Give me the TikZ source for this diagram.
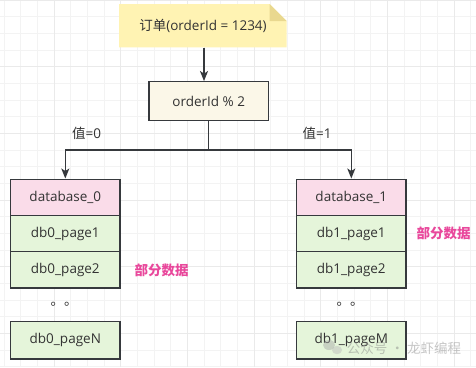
\documentclass[tikz,border=0pt]{standalone}
\usepackage{fontspec}
\setmainfont{Open Sans}
\newfontfamily\cjk{Noto Sans CJK SC}
\usetikzlibrary{arrows.meta}
\definecolor{bd}{HTML}{36393D}
\definecolor{tx}{HTML}{333333}
\definecolor{notefill}{HTML}{FFF3B3}
\definecolor{notefold}{HTML}{E9D88F}
\definecolor{opfill}{HTML}{FBF7E8}
\definecolor{pinkfill}{HTML}{FADCE9}
\definecolor{greenfill}{HTML}{E5F5DA}
\definecolor{hl}{HTML}{E9489C}
\definecolor{gminorc}{HTML}{F3F3F3}
\definecolor{gmajorc}{HTML}{EAEAEA}
\tikzset{
  box/.style={draw=bd, line width=1.3pt, text=tx, inner sep=0pt,
              minimum width=109.3pt, minimum height=36.3pt},
  dbbox/.style={box, fill=pinkfill},
  pgbox/.style={box, fill=greenfill},
  opbox/.style={box, fill=opfill, minimum width=119.3pt, minimum height=39pt},
  arr/.style={draw=bd, line width=1.3pt, -{Stealth[length=10pt,width=8pt,inset=2.5pt]}},
  conn/.style={draw=bd, line width=1.3pt},
  lbl/.style={text=tx, inner sep=0pt},
  hltext/.style={text=hl, inner sep=0pt, font=\cjk\bfseries\fontsize{13.5}{16}\selectfont},
  gminor/.style={draw=gminorc, line width=0.8pt},
  gmajor/.style={draw=gmajorc, line width=1pt},
}
\begin{document}
\begin{tikzpicture}[x=1pt,y=-1pt, font=\fontsize{13.5}{16}\selectfont]
\useasboundingbox (0,0) rectangle (476,367);
\fill[white] (0,0) rectangle (476,367);
% grid
\foreach \xx in {4,20.667,...,476} \draw[gminor] (\xx,0) -- (\xx,367);
\foreach \yy in {0,16.667,...,367} \draw[gminor] (0,\yy) -- (476,\yy);
\foreach \xx in {54,120.667,...,476} \draw[gmajor] (\xx,0) -- (\xx,367);
\foreach \yy in {0,66.667,...,367} \draw[gmajor] (0,\yy) -- (476,\yy);

% note shape
\fill[notefill] (119,4) -- (269.5,4) -- (286.7,21) -- (286.7,47.3) -- (119,47.3) -- cycle;
\fill[notefold] (269.5,4) -- (269.5,21) -- (286.7,21) -- cycle;
\node[lbl, minimum width=167.7pt, minimum height=43.3pt] (note) at (203,25.7)
  {{\cjk 订单}(orderId = 1234)};

\node[opbox] (op) at (208.7,101.2) {orderId \% 2};

% left stack
\node[dbbox] (d0) at (65.3,197.3) {database\_0};
\node[pgbox] (p01) at (65.3,233.6) {db0\_page1};
\node[pgbox] (p02) at (65.3,269.9) {db0\_page2};
\node[lbl] (dots0) at (64,304) {\cjk 。。};
\node[pgbox, minimum height=37.3pt] (p0n) at (65.3,340.4) {db0\_pageN};

% right stack
\node[dbbox] (d1) at (351.3,197.3) {database\_1};
\node[pgbox] (p11) at (351.3,233.6) {db1\_page1};
\node[pgbox] (p12) at (351.3,269.9) {db1\_page2};
\node[lbl] (dots1) at (350,304) {\cjk 。。};
\node[pgbox, minimum height=37.3pt] (p1m) at (351.3,340.4) {db1\_pageM};

% labels
\node[hltext] (part0) at (161.5,270) {部分数据};
\node[hltext] (part1) at (443.5,233.6) {部分数据};
\node[lbl] (v0) at (86.7,133.3) {{\cjk 值}=0};
\node[lbl] (v1) at (317,133.3) {{\cjk 值}=1};

% connectors
\draw[arr] (note.south -| 204,0) -- (op.north -| 204,0);
\coordinate (split) at (208.7,150);
\draw[conn] (op.south) -- (split);
\draw[arr] (split) -| (d0.north);
\draw[arr] (split) -| (d1.north);

% watermark
\begin{scope}[opacity=0.45]
  \fill[gray!70] (329,345) ellipse (6pt and 5pt);
  \fill[gray!55] (337,350) ellipse (5pt and 4.2pt);
  \node[text=gray, inner sep=0pt, font=\cjk\fontsize{13.5}{16}\selectfont] (wm) at (404,348) {公众号 · 龙虾编程};
\end{scope}
\end{tikzpicture}
\end{document}
